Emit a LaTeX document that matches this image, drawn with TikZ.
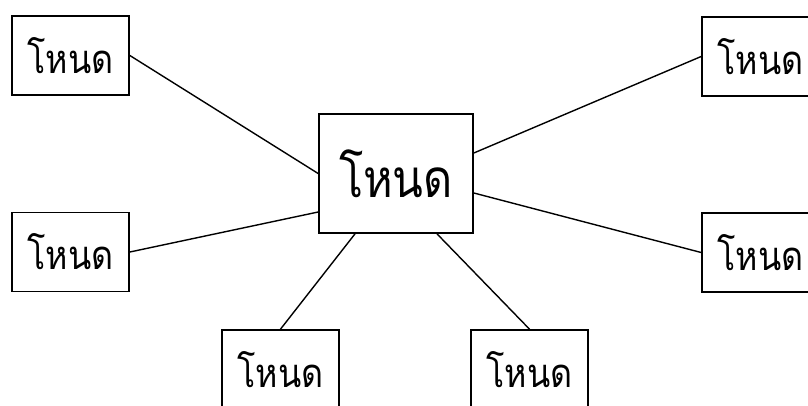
\documentclass[tikz,border=0pt]{standalone}
\usepackage{fontspec}
\newfontfamily\thaifont[Script=Thai,FakeStretch=0.85]{Loma}
\begin{document}
\begin{tikzpicture}[x=1pt,y=-1pt,
  box/.style={draw,line width=1.7pt,minimum width=117pt,minimum height=79pt,inner sep=0pt,font=\thaifont\fontsize{40}{48}\selectfont},
  bigbox/.style={draw,line width=1.7pt,minimum width=154pt,minimum height=119pt,inner sep=0pt,font=\thaifont\fontsize{53}{64}\selectfont},
  link/.style={line width=1.4pt}]
\useasboundingbox (0,0) rectangle (808,405);
\clip (0,0) rectangle (808,405);
\node[bigbox] (c) at (396,173.5) {โหนด};
\node[box] (tl) at (70.5,55.5) {โหนด};
\node[box] (ml) at (70.5,252) {โหนด};
\node[box] (tr) at (760.5,56.5) {โหนด};
\node[box] (mr) at (760.5,252.5) {โหนด};
\node[box] (bl) at (280.5,369.5) {โหนด};
\node[box] (br) at (529.5,369.5) {โหนด};
\draw[link] (tl.east) -- (c.west);
\draw[link] (ml.east) -- ([yshift=-38.5pt]c.west);
\draw[link] ([yshift=20.5pt]c.east) -- (tr.west);
\draw[link] ([yshift=-19.5pt]c.east) -- (mr.west);
\draw[link] ([xshift=-41pt]c.south) -- (bl.north);
\draw[link] ([xshift=41pt]c.south) -- (br.north);
\end{tikzpicture}
\end{document}
